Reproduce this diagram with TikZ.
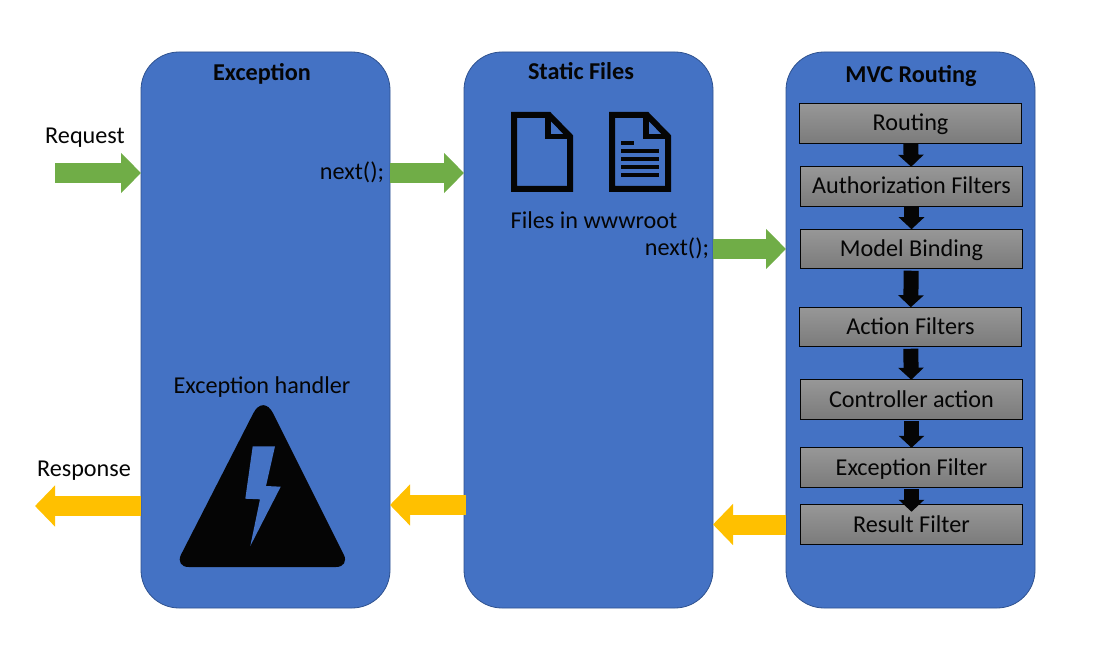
\documentclass[tikz,border=0pt]{standalone}
\usepackage{fontspec}
\setmainfont{Carlito}
\usetikzlibrary{positioning,arrows.meta}
\definecolor{panelblue}{HTML}{4472C4}
\definecolor{paneledge}{HTML}{2F528F}
\definecolor{flowgreen}{HTML}{70AD47}
\definecolor{flowyellow}{HTML}{FFC000}
\definecolor{boxtop}{HTML}{979797}
\definecolor{boxbottom}{HTML}{7B7B7B}
\definecolor{ink}{HTML}{050505}
\begin{document}
\begin{tikzpicture}[x=1pt, y=-1pt, outer sep=0pt, text=ink, font=\fontsize{24.2}{27}\selectfont]
    \tikzstyle{panel} = [rectangle, draw=paneledge, line width=0.8pt, fill=panelblue, rounded corners=38pt, minimum width=249pt, minimum height=556pt]
    \tikzstyle{filterbox} = [rectangle, draw=ink, line width=1.2pt, top color=boxtop, bottom color=boxbottom, minimum width=222pt, minimum height=39.5pt, inner sep=0pt, text height=20pt, text depth=5pt]
    \tikzstyle{title} = [font=\fontsize{24.2}{27}\selectfont\bfseries]
    \tikzstyle{downflow} = [draw=ink, line width=15pt, -{Triangle[length=12pt,width=25pt]}]
    \tikzstyle{greenflow} = [draw=flowgreen, line width=20pt, -{Triangle[length=20pt,width=39pt]}]
    \tikzstyle{yellowflow} = [draw=flowyellow, line width=20pt, -{Triangle[length=20pt,width=40pt]}]
    \tikzstyle{icon} = [draw=ink, line width=6pt, miter limit=10]
    \useasboundingbox (0,0) rectangle (1105,668);

    % three columns
    \node [panel] (exception) at (265.5,330) {};
    \node [panel, right=74pt of exception] (static) {};
    \node [panel, right=73pt of static] (mvc) {};

    \node [title] (exctitle) at (262,74) {Exception};
    \node [title] (stattitle) at (581,71) {Static Files};
    \node [title] (mvctitle) at (911,76.5) {MVC Routing};

    % filter pipeline
    \node [filterbox] (routing) at (910.5,123.5) {Routing};
    \node [filterbox, below=23.5pt of routing, xshift=1pt] (auth) {Authorization Filters};
    \node [filterbox, below=23pt of auth] (binding) {Model Binding};
    \node [filterbox, below=38.5pt of binding, xshift=-1pt] (action) {Action Filters};
    \node [filterbox, below=33pt of action, xshift=1pt] (controller) {Controller action};
    \node [filterbox, below=28.5pt of controller] (excfilter) {Exception Filter};
    \node [filterbox, below=17.5pt of excfilter] (result) {Result Filter};

    \draw [downflow] (routing) -- (auth);
    \draw [downflow] (auth) -- (binding);
    \draw [downflow, shorten <=2pt] (binding) -- (action);
    \draw [downflow, shorten <=2pt] (action) -- (controller);
    \draw [downflow, shorten <=2pt] (controller) -- (excfilter);
    \draw [downflow, shorten <=2pt, shorten >=-7pt] (excfilter) -- (result);

    % labels
    \node (request) at (85,137.5) {Request};
    \node (response) at (84,470.5) {Response};
    \node (nextone) at (352,172) {next();};
    \node (nexttwo) at (677,248) {next();};
    \node (wwwroot) at (594,220) {Files in wwwroot};
    \node (handler) at (262,387) {Exception handler};

    % request and response flow
    \coordinate (reqstart) at (55,173);
    \coordinate (respend) at (35,506);
    \coordinate (nextrow) at (0,173);
    \coordinate (backrow) at (0,505);
    \draw [greenflow] (reqstart) -- (exception.west |- reqstart);
    \draw [greenflow] (exception.east |- nextrow) -- (static.west |- nextrow);
    \draw [greenflow] (static.east |- binding) -- (mvc.west |- binding);
    \draw [yellowflow] (mvc.west |- result) -- (static.east |- result);
    \draw [yellowflow, shorten <=-2pt] (static.west |- backrow) -- (exception.east |- backrow);
    \draw [yellowflow] (exception.west |- respend) -- (respend);

    % file icons
    \draw [icon] (514,189) -- (514,115) -- (549,115) -- (570,136.5) -- (570,189) -- cycle;
    \draw [icon, line width=5.5pt] (548,115) -- (548,136.5) -- (570,136.5);
    \draw [icon] (612,189) -- (612,115) -- (647,115) -- (668,136.5) -- (668,189) -- cycle;
    \draw [icon, line width=5.5pt] (646,115) -- (646,136.5) -- (668,136.5);
    \draw [icon, line width=4pt] (621,143) -- (634,143);
    \foreach \rowy in {151,159,167,175}
        \draw [icon, line width=4pt] (621,\rowy) -- (659,\rowy);

    % warning icon
    \fill [ink, rounded corners=14pt] (263,567) -- (174.7,567) [rounded corners=22pt] -- (263.3,393.7) [rounded corners=14pt] -- (350,567) -- cycle;
    \fill [panelblue] (252.7,446.3) -- (275,446.3) -- (266,486) -- (280.7,486.7) -- (250.3,546) -- (260,499.3) -- (245.3,498.7) -- cycle;
\end{tikzpicture}
\end{document}
